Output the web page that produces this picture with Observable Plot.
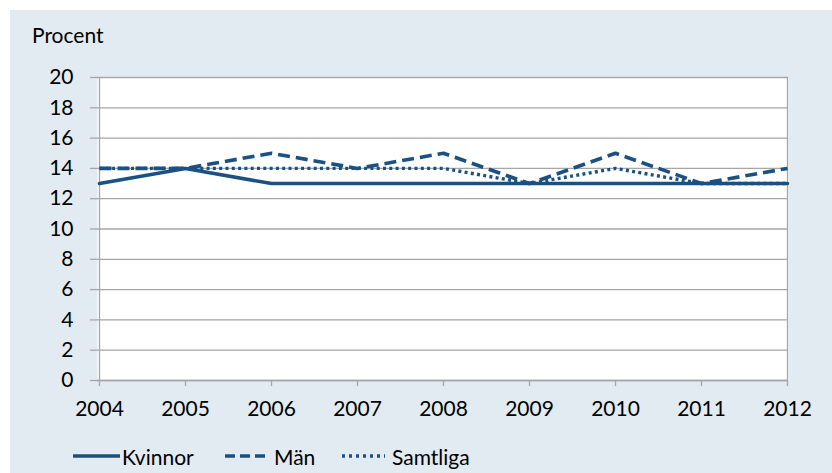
<!DOCTYPE html>
<html>
<head>
<meta charset="utf-8">
<script src="https://cdn.jsdelivr.net/npm/d3@7"></script>
<script src="https://cdn.jsdelivr.net/npm/@observablehq/plot@0.6"></script>
<style>
  html, body { margin: 0; padding: 0; background: #ffffff; }
  #page { position: relative; width: 832px; height: 473px; overflow: hidden; font-family: Lato, "Liberation Sans Narrow", sans-serif; }
  #bg { position: absolute; left: 10px; top: 10px; width: 822px; height: 463px; background: #e2ebf2; }
  #chart { position: absolute; left: 0; top: 0; }
  #ytitle { position: absolute; left: 32px; top: 22px; font-size: 21px; color: #000; }
  #legend { position: absolute; left: 0; top: 444px; height: 24px; width: 832px; font-size: 21px; color: #000; }
  #legend .item { position: absolute; top: 0; display: flex; align-items: center; height: 24px; }
  #legend svg { display: block; }
</style>
</head>
<body>
<div id="page">
  <div id="bg"></div>
  <div id="chart"></div>
  <div id="ytitle">Procent</div>
  <div id="legend"></div>
</div>
<script>
const years = [2004, 2005, 2006, 2007, 2008, 2009, 2010, 2011, 2012];
const kvinnor = [13, 14, 13, 13, 13, 13, 13, 13, 13];
const man = [14, 14, 15, 14, 15, 13, 15, 13, 14];
const samtliga = [14, 14, 14, 14, 14, 13, 14, 13, 13];
const yTicks = [0, 2, 4, 6, 8, 10, 12, 14, 16, 18, 20];
const seriesNames = ["Kvinnor", "Män", "Samtliga"];

const color = "#1a5182";
const dashes = { "Kvinnor": null, "Män": "12,6", "Samtliga": "3,3.3" };
const legendDashes = { "Kvinnor": null, "Män": "10,5", "Samtliga": "3,4" };

const rows = [];
const seriesData = [kvinnor, man, samtliga];
seriesNames.forEach((name, i) => {
  years.forEach((yr, j) => rows.push({ serie: name, year: yr, value: seriesData[i][j] }));
});

const plot = Plot.plot({
  width: 832,
  height: 473,
  marginLeft: 97,
  marginRight: 44,
  marginTop: 77,
  marginBottom: 93,
  style: { background: "transparent", fontFamily: "Lato, 'Liberation Sans Narrow', sans-serif", fontSize: "21px", color: "#000", overflow: "visible" },
  x: { type: "point", domain: years, padding: 0 },
  y: { domain: [0, 20] },
  marks: [
    Plot.frame({ fill: "#ffffff", stroke: null }),
    Plot.gridY(yTicks, { stroke: "#a6a6a6", strokeOpacity: 1, strokeWidth: 1.3 }),
    Plot.ruleX([2012], { stroke: "#a6a6a6", strokeWidth: 1.3 }),
    Plot.ruleX([2004], { stroke: "#a6a6a6", strokeWidth: 1.3 }),
    Plot.ruleY([0], { stroke: "#a6a6a6", strokeWidth: 1.3 }),
    Plot.axisY(yTicks, { tickSize: 7, tickPadding: 17, stroke: "#a6a6a6", strokeWidth: 1.3, label: null, fill: "#000", fontSize: 21 }),
    Plot.axisX(years, { tickSize: 6, tickPadding: 15, stroke: "#a6a6a6", strokeWidth: 1.3, label: null, tickFormat: d => String(d), fill: "#000", fontSize: 21 }),
    Plot.line(rows.filter(d => d.serie === "Kvinnor"), { x: "year", y: "value", stroke: color, strokeWidth: 3.6, curve: "linear" }),
    Plot.line(rows.filter(d => d.serie === "Samtliga"), { x: "year", y: "value", stroke: color, strokeWidth: 3.4, strokeDasharray: dashes["Samtliga"], strokeLinecap: "butt", curve: "linear" }),
    Plot.line(rows.filter(d => d.serie === "Män"), { x: "year", y: "value", stroke: color, strokeWidth: 3.6, strokeDasharray: dashes["Män"], strokeLinecap: "butt", curve: "linear" })
  ]
});
document.getElementById("chart").appendChild(plot);

// legend
const legendItems = [
  { name: "Kvinnor", x: 73, w: 47, gap: 2 },
  { name: "Män", x: 225, w: 40, gap: 9 },
  { name: "Samtliga", x: 342, w: 43, gap: 7 }
];
const legend = d3.select("#legend");
legendItems.forEach(it => {
  const item = legend.append("div").attr("class", "item").style("left", it.x + "px");
  const s = item.append("svg").attr("width", it.w).attr("height", 24);
  s.append("line").attr("x1", 0).attr("x2", it.w).attr("y1", 12).attr("y2", 12)
    .attr("stroke", color).attr("stroke-width", 3.6)
    .attr("stroke-dasharray", legendDashes[it.name]);
  item.append("span").style("margin-left", it.gap + "px").text(it.name);
});
</script>
</body>
</html>
